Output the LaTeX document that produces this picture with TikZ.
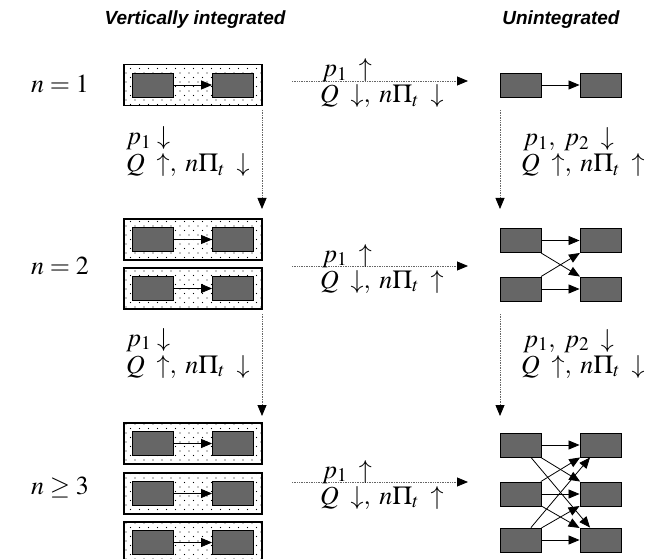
\documentclass[tikz,border=0pt]{standalone}
\usepackage{mathptmx}
\usepackage{fontspec}
\newfontfamily\headfont{Liberation Sans}
\usetikzlibrary{arrows.meta,patterns.meta}
\definecolor{sqgray}{RGB}{102,102,102}
% spaced-out effect lines
\newcommand{\upd}{\;\uparrow}
\newcommand{\dnd}{\;\downarrow}

\begin{document}
\begin{tikzpicture}[x=1pt,y=-1pt,
  sq/.style={draw=black,line width=0.9pt,fill=sqgray,minimum width=41pt,minimum height=24pt,inner sep=0pt},
  vibox/.style={draw=black,line width=1.4pt,
                pattern={Dots[distance=9pt,radius=0.55pt]},pattern color=black,
                postaction={pattern={Dots[distance=9pt,radius=0.55pt,xshift=4.5pt,yshift=4.5pt]},pattern color=black},
                minimum width=138pt,minimum height=41pt,inner sep=0pt},
  link/.style={line width=0.8pt,-{Triangle[length=11pt,width=9pt]}},
  flow/.style={draw=black!60,line width=0.8pt,dash pattern=on 0.8pt off 0.9pt,
               -{Triangle[length=11pt,width=9pt,color=black]}},
  lbl/.style={anchor=base west,inner sep=0pt,font=\fontsize{26}{26}\selectfont},
  rowlbl/.style={anchor=base,inner sep=0pt,font=\fontsize{26}{26}\selectfont},
  heading/.style={inner sep=0pt,font=\headfont\bfseries\itshape\fontsize{19}{19}\selectfont}]
\useasboundingbox (0,0) rectangle (662,559);

% column headings
\node[heading] (hvi) at (195,20) {Vertically integrated};
\node[heading] (hun) at (561,20) {Unintegrated};

% row labels
\node[rowlbl] (n1) at (60,93) {$n=1$};
\node[rowlbl] (n2) at (60,274) {$n=2$};
\node[rowlbl] (n3) at (60,494) {$n\geq 3$};

% vertically integrated chains
\foreach \k/\y in {1/85, 2a/239.5, 2b/288.5, 3a/443.5, 3b/493.5, 3c/542.5}{
  \node[vibox] (box\k) at (193,\y) {};
  \node[sq] (up\k) at (152.5,\y) {};
  \node[sq] (dn\k) at (233,\y) {};
  \draw[link] (up\k) -- (dn\k);
}

% unintegrated firms, n = 1
\node[sq] (ua1) at (520.5,85) {};
\node[sq] (da1) at (600.5,85) {};
\draw[link] (ua1) -- (da1);

% unintegrated firms, n = 2
\foreach \i/\y in {1/240.5, 2/289}{
  \node[sq] (ub\i) at (520.5,\y) {};
  \node[sq] (db\i) at (600.5,\y) {};
}
\foreach \i in {1,2}{\foreach \j in {1,2}{\draw[link] (ub\i) -- (db\j);}}

% unintegrated firms, n >= 3
\foreach \i/\y in {1/445, 2/494, 3/540}{
  \node[sq] (uc\i) at (520.5,\y) {};
  \node[sq] (dc\i) at (600.5,\y) {};
}
\foreach \i in {1,2,3}{\foreach \j in {1,2,3}{\draw[link] (uc\i) -- (dc\j);}}

% horizontal transitions: integrated -> unintegrated
\coordinate (h1s) at (292,81);  \coordinate (h1e) at (468,81);
\coordinate (h2s) at (292,266); \coordinate (h2e) at (468,266);
\coordinate (h3s) at (292,482); \coordinate (h3e) at (468,482);
\draw[flow] (h1s) -- (h1e);
\draw[flow] (h2s) -- (h2e);
\draw[flow] (h3s) -- (h3e);

% vertical transitions: more firms
\coordinate (vl1s) at (262,110); \coordinate (vl1e) at (262,209);
\coordinate (vl2s) at (262,314); \coordinate (vl2e) at (262,416);
\coordinate (vr1s) at (500,110); \coordinate (vr1e) at (500,209);
\coordinate (vr2s) at (500,314); \coordinate (vr2e) at (500,416);
\draw[flow] (vl1s) -- (vl1e);
\draw[flow] (vl2s) -- (vl2e);
\draw[flow] (vr1s) -- (vr1e);
\draw[flow] (vr2s) -- (vr2e);

% effects along the horizontal transitions
\node[lbl] (a1) at (322,77)  {$p_1\upd$};
\node[lbl] (b1) at (320,103) {$Q\dnd,\; n\Pi_t\dnd$};
\node[lbl] (a2) at (322,262) {$p_1\upd$};
\node[lbl] (b2) at (320,288) {$Q\dnd,\; n\Pi_t\upd$};
\node[lbl] (a3) at (322,478) {$p_1\upd$};
\node[lbl] (b3) at (320,504) {$Q\dnd,\; n\Pi_t\upd$};

% effects along the vertical transitions (integrated)
\node[lbl] (c1) at (126,145) {$p_1\downarrow$};
\node[lbl] (d1) at (126,172) {$Q\upd,\; n\Pi_t\dnd$};
\node[lbl] (c2) at (126,346) {$p_1\downarrow$};
\node[lbl] (d2) at (126,373) {$Q\upd,\; n\Pi_t\dnd$};

% effects along the vertical transitions (unintegrated)
\node[lbl] (e1) at (523,146) {$p_1,\; p_2\dnd$};
\node[lbl] (f1) at (521,172) {$Q\upd,\; n\Pi_t\upd$};
\node[lbl] (e2) at (523,347) {$p_1,\; p_2\dnd$};
\node[lbl] (f2) at (521,373) {$Q\upd,\; n\Pi_t\dnd$};
\end{tikzpicture}
\end{document}
